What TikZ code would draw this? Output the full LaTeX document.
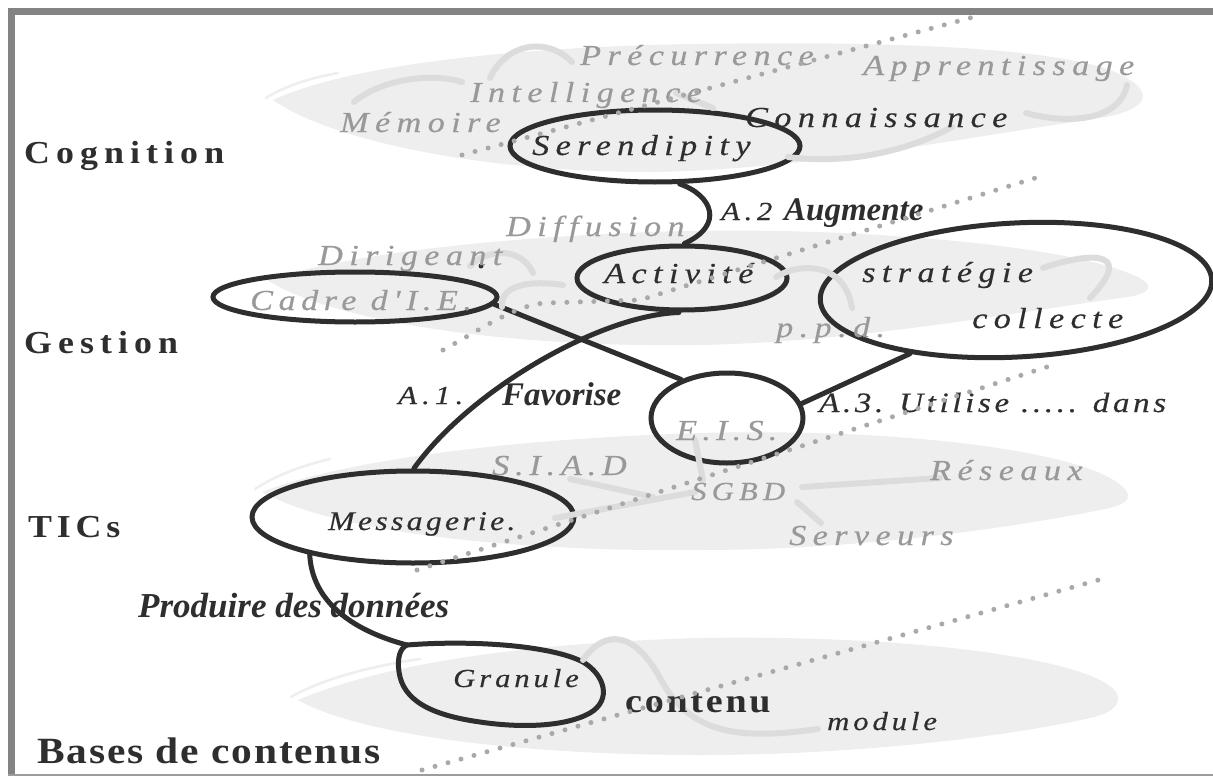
\documentclass[tikz,border=0pt]{standalone}
\usepackage{fontspec}
\setmainfont{Liberation Serif}[Ligatures=TeXOff]
\newfontfamily\itf{Liberation Serif}[Ligatures=TeXOff, FakeStretch=1.18, FakeBold=0.4]
\newfontfamily\sidef{Liberation Serif}[Ligatures=TeXOff, FakeStretch=1.12]
\usetikzlibrary{shapes.geometric}
\definecolor{ink}{HTML}{2E2E2E}
\definecolor{txtgray}{HTML}{999999}
\definecolor{bandgray}{HTML}{EEEEEE}
\definecolor{ghostgray}{HTML}{DCDCDC}
\definecolor{dotgray}{HTML}{A9A9A9}
\definecolor{framegray}{HTML}{838383}
\tikzset{
  band/.style={fill=bandgray, draw=none},
  fringe/.style={draw=bandgray, line width=2.5pt, line cap=round},
  oval/.style={ellipse, draw=ink, line width=5pt, inner sep=0pt},
  link/.style={draw=ink, line width=5pt, line cap=round},
  ghost/.style={draw=ghostgray, line width=6pt, line cap=round},
  dotline/.style={draw=dotgray, line width=5pt, line cap=round, dash pattern=on 0pt off 13.5pt},
  gtxt/.style={text=txtgray, inner sep=0pt, anchor=base west,
    font=\itf\fontsize{29}{29}\selectfont\itshape\addfontfeature{LetterSpace=22}},
  btxt/.style={gtxt, text=ink},
  small/.style={font=\itf\fontsize{26}{26}\selectfont\itshape\addfontfeature{LetterSpace=#1}},
  side/.style={text=ink, inner sep=0pt, anchor=base west,
    font=\sidef\fontsize{32}{32}\selectfont\bfseries\addfontfeature{LetterSpace=19}},
  bolditx/.style={text=ink, inner sep=0pt, anchor=base west,
    font=\fontsize{33}{33}\selectfont\bfseries\itshape}
}
\begin{document}
\begin{tikzpicture}[x=1pt,y=-1pt]
\useasboundingbox (0,0) rectangle (1213,776);
\fill[white] (0,0) rectangle (1213,776);
% frame
\draw[framegray, line width=7pt] (11.5,776) -- (11.5,11.5) -- (1213,11.5);
\draw[framegray!80, line width=1.5pt] (8,775) -- (1213,775);

% grey bands
\fill[band] (273,100) .. controls (350,65) and (500,50) .. (650,45) .. controls (850,40) and (1040,45) .. (1110,70) .. controls (1160,90) and (1150,110) .. (1100,118) .. controls (950,140) and (800,170) .. (650,172) .. controls (480,172) and (330,140) .. (273,100) -- cycle;
\draw[fringe] (266,98) .. controls (285,86) and (310,78) .. (338,73);
\fill[band] (267,280) .. controls (330,260) and (450,240) .. (650,232) .. controls (850,225) and (1050,245) .. (1120,270) .. controls (1165,285) and (1150,295) .. (1120,298) .. controls (1000,315) and (850,342) .. (700,345) .. controls (500,348) and (330,320) .. (267,280) -- cycle;
\fill[band] (262,492) .. controls (330,465) and (480,440) .. (700,433) .. controls (900,428) and (1060,450) .. (1110,478) .. controls (1140,495) and (1130,505) .. (1100,510) .. controls (1000,530) and (850,550) .. (700,550) .. controls (500,552) and (330,530) .. (262,492) -- cycle;
\draw[fringe] (255,489) .. controls (275,476) and (300,466) .. (330,459);
\fill[band] (298,700) .. controls (380,665) and (520,643) .. (700,638) .. controls (900,635) and (1050,655) .. (1100,680) .. controls (1130,695) and (1120,712) .. (1090,718) .. controls (1000,738) and (850,755) .. (700,755) .. controls (520,755) and (360,735) .. (298,700) -- cycle;
\draw[fringe] (291,697) .. controls (320,680) and (370,666) .. (420,659);

% black ovals
\node[oval, minimum width=290pt, minimum height=72pt] (ser) at (655,146) {};
\node[oval, minimum width=210pt, minimum height=64pt] (act) at (682,278) {};
\node[oval, minimum width=284pt, minimum height=50pt] (cad) at (355,297) {};
\node[oval, minimum width=392pt, minimum height=134pt, rotate=3] (big) at (1016,290) {};
\node[oval, minimum width=152pt, minimum height=90pt] (eis) at (727,418) {};
\node[oval, minimum width=322pt, minimum height=92pt] (mes) at (413,517) {};
\coordinate (gtl) at (407,645);
\draw[link] (gtl) .. controls (470,640) and (550,645) .. (583,662) .. controls (605,675) and (612,700) .. (590,713) .. controls (565,727) and (520,728) .. (480,722) .. controls (430,715) and (403,700) .. (399,672) .. controls (397,658) and (400,648) .. (gtl);

% black connectors
\draw[link] (ser.-57) .. controls (712,195) and (725,225) .. (act.86);
\draw[link] (act.-95) .. controls (600,315) and (470,390) .. (mes.89);
\draw[link] (cad.-3) -- (eis.140);
\draw[link] (eis.11) -- (big.-152);
\draw[link] (mes.-160) .. controls (312,600) and (350,630) .. (gtl);
\fill[ink] (481,266) circle (2.5pt);

% ghost strokes
\draw[ghost] (354,102) .. controls (380,80) and (430,72) .. (462,82);
\draw[ghost] (490,78) .. controls (505,45) and (545,35) .. (572,62);
\draw[ghost] (676,93) -- (713,108);
\draw[ghost] (788,157) .. controls (850,165) and (910,150) .. (952,127);
\draw[ghost] (1026,113) .. controls (1070,125) and (1120,120) .. (1127,85);
\draw[ghost] (470,266) .. controls (485,250) and (520,245) .. (533,273);
\draw[ghost] (502,307) .. controls (500,285) and (530,280) .. (563,285);
\draw[ghost] (776,277) .. controls (800,262) and (845,262) .. (852,308);
\draw[ghost] (1043,268) .. controls (1080,255) and (1140,245) .. (1090,298);
\draw[ghost] (570,479) -- (653,497);
\draw[ghost] (555,518) -- (695,492);
\draw[ghost] (695,440) -- (703,480);
\draw[ghost] (802,487) -- (940,478);
\draw[ghost] (797,502) -- (821,523);
\draw[ghost] (583,660) .. controls (605,628) and (635,632) .. (660,678) .. controls (690,735) and (740,740) .. (818,729);

% side labels
\node[side] (lcog) at (24,163) {Cognition};
\node[side] (lges) at (24,353) {Gestion};
\node[side, font=\sidef\fontsize{32}{32}\selectfont\bfseries\addfontfeature{LetterSpace=15}] (ltic) at (28,537) {TICs};
\node[side, font=\sidef\fontsize{37}{37}\selectfont\bfseries\addfontfeature{LetterSpace=5}] (lbas) at (37,763) {Bases de contenus};

% texts
\node[gtxt] (tprec) at (580,65) {Précurrence};
\node[gtxt] (tint) at (470,102) {Intelligence};
\node[gtxt] (tapp) at (863,75) {Apprentissage};
\node[gtxt] (tmem) at (340,132) {Mémoire};
\node[btxt] (tcon) at (745,127) {Connaissance};
\node[btxt] (tser) at (532,155) {Serendipity};
\node[gtxt] (tdif) at (506,236) {Diffusion};
\node[btxt, small=18] (ta2) at (721,220) {A.2};
\node[bolditx] (taug) at (784,220) {Augmente};
\node[gtxt] (tdir) at (318,265) {Dirigeant};
\node[gtxt, font=\itf\fontsize{29}{29}\selectfont\itshape\addfontfeature{LetterSpace=19}] (tcad) at (250,310) {Cadre d'I.E.};
\node[btxt] (tact) at (604,283) {Activité};
\node[btxt] (tstr) at (862,282) {stratégie};
\node[btxt] (tcol) at (972,328) {collecte};
\node[gtxt] (tppd) at (776,337) {p.p.d.};
\node[btxt, small=20] (ta1) at (398,404) {A.1.};
\node[bolditx] (tfav) at (502,405) {Favorise};
\node[btxt, font=\itf\fontsize{28}{28}\selectfont\itshape\addfontfeature{LetterSpace=13}] (ta3) at (819,412) {A.3. Utilise ..... dans};
\node[gtxt, font=\itf\fontsize{29}{29}\selectfont\itshape\addfontfeature{LetterSpace=18}] (teis) at (676,440) {E.I.S.};
\node[gtxt, font=\itf\fontsize{29}{29}\selectfont\itshape\addfontfeature{LetterSpace=20}] (tsiad) at (492,475) {S.I.A.D};
\node[gtxt, small=20] (tsgbd) at (691,500) {SGBD};
\node[gtxt] (tres) at (930,480) {Réseaux};
\node[btxt, font=\itf\fontsize{27}{27}\selectfont\itshape\addfontfeature{LetterSpace=12}] (tmes) at (328,530) {Messagerie.};
\node[gtxt] (tserv) at (789,545) {Serveurs};
\node[bolditx, font=\fontsize{35}{35}\selectfont\bfseries\itshape] (tprod) at (138,617) {Produire des données};
\node[btxt, small=15] (tgra) at (453,687) {Granule};
\node[side, font=\sidef\fontsize{34}{34}\selectfont\bfseries\addfontfeature{LetterSpace=8}] (tcontenu) at (625,712) {contenu};
\node[btxt, small=15] (tmod) at (827,730) {module};

% dotted diagonals
\draw[dotline] (462,155) -- (981,15);
\draw[dotline] (443,350) .. controls (480,330) and (515,305) .. (545,303) -- (640,300) -- (1045,175);
\draw[dotline] (417,570) -- (1053,365);
\draw[dotline] (422,770) -- (1102,579);
\end{tikzpicture}
\end{document}
